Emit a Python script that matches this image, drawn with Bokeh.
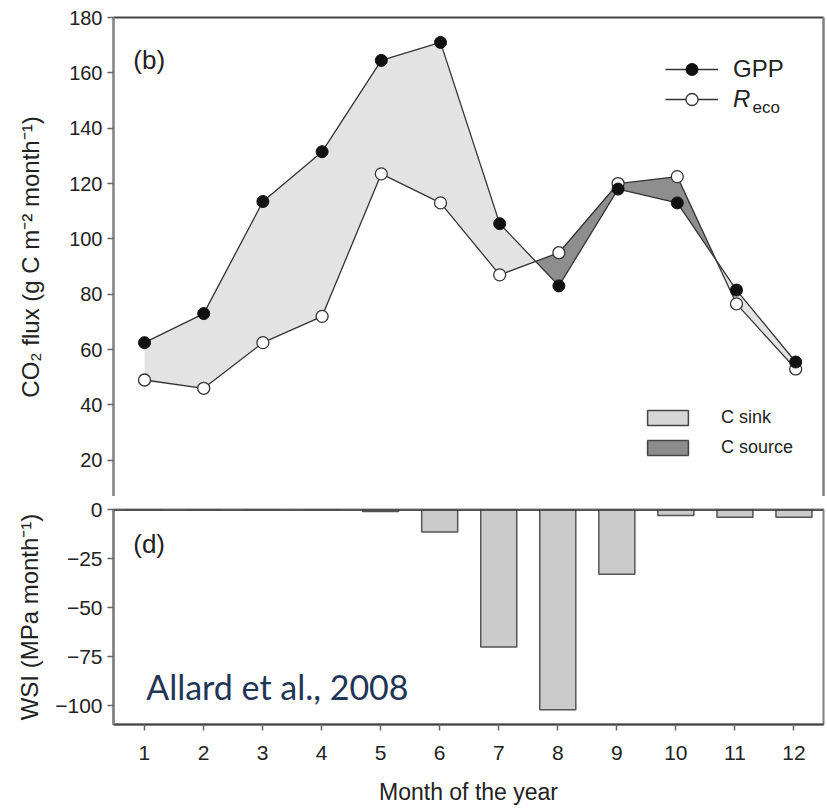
import numpy as np
from bokeh.plotting import figure
from bokeh.layouts import column
from bokeh.models import (Range1d, LinearAxis, FixedTicker, Legend, LegendItem,
                          Label, Span)
from bokeh.embed import file_html
from bokeh.resources import INLINE

# ---- data -------------------------------------------------------------
months = [1, 2, 3, 4, 5, 6, 7, 8, 9, 10, 11, 12]
gpp = [62.5, 73, 113.5, 131.5, 164.5, 171, 105.5, 83, 118, 113, 81.5, 55.5]
reco = [49, 46, 62.5, 72, 123.5, 113, 87, 95, 120, 122.5, 76.5, 53]
wsi = [0, 0, 0, 0, -1, -11.5, -70, -102, -33, -3, -4, -4]

flux_ticks = [20, 40, 60, 80, 100, 120, 140, 160, 180]
wsi_ticks = [0, -25, -50, -75, -100]

FONT = "Liberation Sans"
TXT = "#222222"
LINE = "#333333"
SINK = "#e3e3e3"
SOURCE = "#8e8e8e"


def with_crossings(x, a, b):
    """Insert the points where curves a and b cross, so fills split cleanly."""
    xs, ya, yb = [x[0]], [a[0]], [b[0]]
    for i in range(len(x) - 1):
        d0, d1 = a[i] - b[i], a[i + 1] - b[i + 1]
        if d0 * d1 < 0:
            t = d0 / (d0 - d1)
            xc = x[i] + t * (x[i + 1] - x[i])
            yc = a[i] + t * (a[i + 1] - a[i])
            xs.append(xc); ya.append(yc); yb.append(yc)
        xs.append(x[i + 1]); ya.append(a[i + 1]); yb.append(b[i + 1])
    return np.array(xs), np.array(ya), np.array(yb)


# ---- upper panel: CO2 fluxes -------------------------------------------
top = figure(width=827, height=496, x_range=Range1d(0.476, 12.47),
             y_range=Range1d(6.9, 180), x_axis_type=None,
             output_backend="svg", toolbar_location=None,
             min_border_left=113, min_border_right=4, min_border_top=17,
             min_border_bottom=0, outline_line_color=None,
             background_fill_color="white", border_fill_color="white")
top.grid.visible = False

xs, gs, rs = with_crossings(months, gpp, reco)
upper = np.maximum(gs, rs)
top.varea(x=xs, y1=rs, y2=upper, fill_color=SINK)
top.varea(x=xs, y1=gs, y2=upper, fill_color=SOURCE)

reco_line = top.line(months, reco, line_color=LINE, line_width=1.3)
gpp_line = top.line(months, gpp, line_color=LINE, line_width=1.3)
reco_pts = top.scatter(months, reco, size=12, fill_color="white",
                       line_color=LINE, line_width=1.3)
gpp_pts = top.scatter(months, gpp, size=12, fill_color="#111111",
                      line_color="#111111")

ya = top.yaxis[0]
ya.ticker = FixedTicker(ticks=flux_ticks)
ya.axis_line_color = "#808080"
ya.axis_line_width = 2.5
ya.major_tick_line_color = "#666666"
ya.major_tick_line_width = 1.5
ya.major_tick_out = 6
ya.major_tick_in = 0
ya.minor_tick_line_color = None
ya.major_label_text_font = FONT
ya.major_label_text_font_size = "20px"
ya.major_label_text_color = TXT
ya.major_label_standoff = 5
ya.axis_label = "CO\u2082 flux (g C m\u207b\u00b2 month\u207b\u00b9)"
ya.axis_label_text_font = FONT
ya.axis_label_text_font_size = "24px"
ya.axis_label_text_font_style = "normal"
ya.axis_label_text_color = TXT
ya.axis_label_standoff = 22

for side, color in (("above", "#444444"), ("right", "#808080")):
    ax = LinearAxis(ticker=FixedTicker(ticks=[]), axis_line_color=color,
                    axis_line_width=2 if side == "above" else 2.5,
                    major_tick_line_color=None, minor_tick_line_color=None,
                    major_tick_out=0, major_label_standoff=0,
                    major_label_text_font_size="0px")
    top.add_layout(ax, side)

top.add_layout(Label(x=0.81, y=164.8, text="(b)", text_font=FONT,
                     text_font_size="26px", text_color=TXT,
                     text_baseline="middle"))

leg_gpp = Legend(items=[LegendItem(label="GPP", renderers=[gpp_line, gpp_pts])],
                 location=(552, 412), orientation="vertical")
leg_reco = Legend(items=[LegendItem(label="R", renderers=[reco_line, reco_pts])],
                  location=(552, 382), orientation="vertical",
                  label_text_font_style="italic")
for lg in (leg_gpp, leg_reco):
    lg.glyph_width = 53
    lg.glyph_height = 30
    lg.label_standoff = 15
    lg.label_text_font = FONT
    lg.label_text_font_size = "24px"
    lg.label_text_color = TXT
    lg.padding = 0
    lg.margin = 0
    lg.border_line_color = None
    lg.background_fill_alpha = 0
    top.add_layout(lg)
top.add_layout(Label(x=11.27, y=144.0, text="eco", text_font=FONT,
                     text_font_size="17px", text_color=TXT))

# legend keys for the two fill classes (a single NaN box each: nothing plotted)
nan = [float("nan")]
sink_key = top.quad(left=nan, right=nan, top=nan, bottom=nan,
                    fill_color="#d6d6d6", line_color="#444444", line_width=1.5)
source_key = top.quad(left=nan, right=nan, top=nan, bottom=nan,
                      fill_color="#8c8c8c", line_color="#444444", line_width=1.5)
leg_c = Legend(items=[LegendItem(label="C sink", renderers=[sink_key]),
                      LegendItem(label="C source", renderers=[source_key])],
               location=(529, 38))
leg_c.glyph_width = 51
leg_c.glyph_height = 19
leg_c.label_standoff = 28
leg_c.spacing = 9
leg_c.label_text_font = FONT
leg_c.label_text_font_size = "18px"
leg_c.label_text_color = TXT
leg_c.padding = 0
leg_c.margin = 0
leg_c.border_line_color = None
leg_c.background_fill_alpha = 0
top.add_layout(leg_c)

# ---- lower panel: water stress integral --------------------------------
bot = figure(width=827, height=315, x_range=Range1d(0.476, 12.5),
             y_range=Range1d(-109.5, 0), output_backend="svg",
             toolbar_location=None, min_border_left=113, min_border_right=2,
             min_border_top=13, min_border_bottom=87,
             outline_line_color="#808080", outline_line_width=2,
             background_fill_color="white", border_fill_color="white")
bot.grid.visible = False

bot.vbar(x=months, top=0, bottom=wsi, width=0.61, fill_color="#cbcbcb",
         line_color="#555555", line_width=1.5)
bot.add_layout(Span(location=0, dimension="width", line_color="#333333",
                    line_width=2.5))

yb = bot.yaxis[0]
yb.ticker = FixedTicker(ticks=wsi_ticks)
yb.major_label_overrides = {t: (str(t) if t >= 0 else "\u2212" + str(-t))
                            for t in wsi_ticks}
yb.axis_line_color = "#808080"
yb.axis_line_width = 2.5
yb.major_tick_line_color = "#666666"
yb.major_tick_line_width = 1.5
yb.major_tick_out = 6
yb.major_tick_in = 0
yb.minor_tick_line_color = None
yb.major_label_text_font = FONT
yb.major_label_text_font_size = "21px"
yb.major_label_text_color = TXT
yb.major_label_standoff = 5
yb.axis_label = "WSI (MPa month\u207b\u00b9)"
yb.axis_label_text_font = FONT
yb.axis_label_text_font_size = "24px"
yb.axis_label_text_font_style = "normal"
yb.axis_label_text_color = TXT
yb.axis_label_standoff = 9

xb = bot.xaxis[0]
xb.ticker = FixedTicker(ticks=months)
xb.axis_line_color = "#444444"
xb.axis_line_width = 2
xb.major_tick_line_color = "#666666"
xb.major_tick_line_width = 1.5
xb.major_tick_out = 6
xb.major_tick_in = 0
xb.minor_tick_line_color = None
xb.major_label_text_font = FONT
xb.major_label_text_font_size = "21px"
xb.major_label_text_color = TXT
xb.major_label_standoff = 15
xb.axis_label = "Month of the year"
xb.axis_label_text_font = FONT
xb.axis_label_text_font_size = "23px"
xb.axis_label_text_font_style = "normal"
xb.axis_label_text_color = TXT
xb.axis_label_standoff = 16

bot.add_layout(Label(x=0.81, y=-17.6, text="(d)", text_font=FONT,
                     text_font_size="26px", text_color=TXT,
                     text_baseline="middle"))
bot.add_layout(Label(x=1.03, y=-90, text="Allard et al., 2008",
                     text_font="Lato", text_font_size="34px",
                     text_color="#1f3557", text_baseline="alphabetic"))

layout = column(top, bot, spacing=0)
open("out.html", "w").write(file_html(layout, INLINE))
